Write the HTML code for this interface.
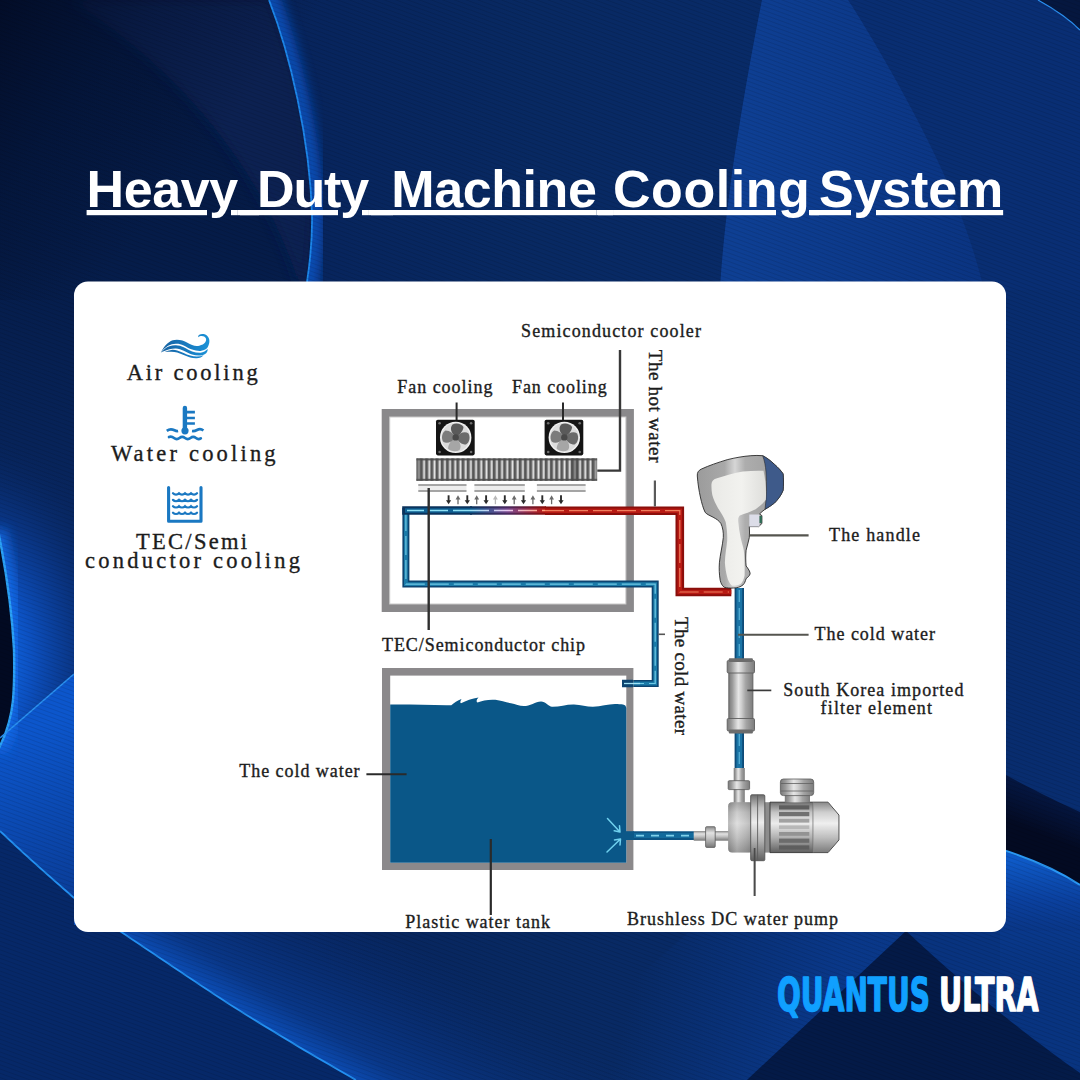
<!DOCTYPE html>
<html lang="en">
<head>
<meta charset="utf-8">
<title>Heavy Duty Machine Cooling System</title>
<style>
html,body{margin:0;padding:0;background:#05194a;}
body{width:1080px;height:1080px;overflow:hidden;position:relative;}
svg{position:absolute;left:0;top:0;display:block;}
.sans{font-family:"Liberation Sans",sans-serif;font-weight:700;}
.serif{font-family:"Liberation Serif",serif;fill:#1c1c1c;}
</style>
</head>
<body>
<svg width="1080" height="1080" viewBox="0 0 1080 1080">
<defs>
  <linearGradient id="bgBase" x1="0" y1="0" x2="1" y2="0">
    <stop offset="0" stop-color="#06215a"/>
    <stop offset="0.270" stop-color="#07245c"/>
    <stop offset="0.500" stop-color="#082962"/>
    <stop offset="1" stop-color="#082d70"/>
  </linearGradient>
  <linearGradient id="bigArcGlow" gradientUnits="userSpaceOnUse" x1="300" y1="0" x2="372" y2="0">
    <stop offset="0" stop-color="#0d50b8" stop-opacity="0.700"/>
    <stop offset="0.250" stop-color="#0a3c94" stop-opacity="0.400"/>
    <stop offset="1" stop-color="#08286a" stop-opacity="0"/>
  </linearGradient>
  <linearGradient id="tlDark" gradientUnits="userSpaceOnUse" x1="0" y1="0" x2="200" y2="160">
    <stop offset="0" stop-color="#020b24" stop-opacity="0.850"/>
    <stop offset="0.500" stop-color="#03102e" stop-opacity="0.400"/>
    <stop offset="1" stop-color="#03102e" stop-opacity="0"/>
  </linearGradient>
  <filter id="soft" x="-20%" y="-20%" width="140%" height="140%"><feGaussianBlur stdDeviation="6"/></filter>
  <linearGradient id="leftBand" gradientUnits="userSpaceOnUse" x1="0" y1="740" x2="60" y2="900">
    <stop offset="0" stop-color="#0c56cc"/>
    <stop offset="1" stop-color="#0a3d98"/>
  </linearGradient>
  <linearGradient id="leaf" gradientUnits="userSpaceOnUse" x1="740" y1="0" x2="1000" y2="0">
    <stop offset="0" stop-color="#0e3f93"/>
    <stop offset="1" stop-color="#0a3380"/>
  </linearGradient>
  <radialGradient id="leftGlow" gradientUnits="userSpaceOnUse" cx="-45" cy="660" r="230" gradientTransform="translate(-45 660) scale(0.800 1) translate(45 -660)">
    <stop offset="0.250" stop-color="#0f66e4"/>
    <stop offset="0.420" stop-color="#0c50c0"/>
    <stop offset="0.650" stop-color="#0a3a90" stop-opacity="0.800"/>
    <stop offset="1" stop-color="#07255e" stop-opacity="0"/>
  </radialGradient>
  <linearGradient id="botGlow" gradientUnits="userSpaceOnUse" x1="226" y1="1002" x2="310" y2="870">
    <stop offset="0" stop-color="#0c50bc" stop-opacity="0.950"/>
    <stop offset="0.200" stop-color="#0a3f9a" stop-opacity="0.700"/>
    <stop offset="1" stop-color="#082c72" stop-opacity="0"/>
  </linearGradient>
  <linearGradient id="rightGlow" gradientUnits="userSpaceOnUse" x1="0" y1="860" x2="0" y2="1000">
    <stop offset="0" stop-color="#0e5ac8"/>
    <stop offset="0.300" stop-color="#0b43a5" stop-opacity="0.850"/>
    <stop offset="1" stop-color="#082f78" stop-opacity="0"/>
  </linearGradient>
  <linearGradient id="bandFade" gradientUnits="userSpaceOnUse" x1="1046" y1="790" x2="1030" y2="830">
    <stop offset="0" stop-color="#041238" stop-opacity="0.800"/>
    <stop offset="1" stop-color="#030a22"/>
  </linearGradient>
  <linearGradient id="mtLeft" gradientUnits="userSpaceOnUse" x1="830" y1="1010" x2="640" y2="960">
    <stop offset="0" stop-color="#0a3a8e" stop-opacity="0.850"/>
    <stop offset="1" stop-color="#0a3a8e" stop-opacity="0"/>
  </linearGradient>
  <linearGradient id="darkLeft" gradientUnits="userSpaceOnUse" x1="0" y1="0" x2="0" y2="520">
    <stop offset="0" stop-color="#04173e"/>
    <stop offset="0.500" stop-color="#051c49"/>
    <stop offset="1" stop-color="#08265f"/>
  </linearGradient>
  <pattern id="tex" width="4" height="4" patternUnits="userSpaceOnUse" patternTransform="rotate(20)">
    <rect width="4" height="1" fill="#000" opacity="0.10"/>
  </pattern>
</defs>

<!-- ================= BACKGROUND ================= -->
<g id="bg">
  <rect width="1080" height="1080" fill="url(#bgBase)"/>
  <!-- dark left upper region (inside big arc) -->
  <path d="M0 0H269C278 22 285 40 290 54C296 72 300 90 303 107C307 125 310 143 311 161C312.500 180 313 198 312 215C311 238 309 260 307 282C300 420 200 570 74 674L0 738Z" fill="url(#darkLeft)"/>
  <path d="M70 0C180 70 262 170 298 282L307 282C311 238 313 198 311 161C307 107 290 54 269 0Z" fill="#072253" filter="url(#soft)" opacity="0.900"/>
  <rect x="0" y="0" width="320" height="300" fill="url(#tlDark)"/>
  
  <!-- glow right of big arc -->
  <clipPath id="rightOfArc"><path d="M269 0C290 54 310 140 312 215C312.500 240 310 262 307 290H500V0Z"/></clipPath>
  <g clip-path="url(#rightOfArc)"><path d="M262 -20C290 54 310 140 312 215C312.500 240 310 262 305 300" fill="none" stroke="#0e5ad0" stroke-width="24" filter="url(#soft)" opacity="0.750"/></g>
  <path d="M269 0C290 54 310 140 312 215C312.500 240 310 262 307 282" fill="none" stroke="#1c86ea" stroke-width="1.800"/>
  <!-- right leaf -->
  <path d="M762 0C750 60 742 110 740 122C730 180 722 250 720 290H1080V0Z" fill="#0a2f78" opacity="0.500"/>
  <path d="M762 0C750 60 742 110 740 122C730 180 722 250 720 290L984 290C965 210 930 140 885 61C870 35 858 15 848 0Z" fill="url(#leaf)"/>
  <path d="M1038 0C1056 10 1072 22 1080 30V0Z" fill="#05173f"/>
  <path d="M1038 0C1056 10 1072 22 1080 30" fill="none" stroke="#2a8ff0" stroke-width="1.200"/>
  <!-- left glow + dark oval -->
  <path d="M0 380H140V620L0 738Z" fill="url(#leftGlow)"/>
  <path d="M0 738L74 674V897L0 831Z" fill="url(#leftBand)"/>
  <path d="M-2 530C6 570 12 610 14 650C14.500 670 14.200 685 13 700C11 720 6 735 -2 750" fill="none" stroke="#1570f0" stroke-width="16" filter="url(#soft)" opacity="0.800"/>
  <path d="M0 539C6 570 12 610 14 650C14.500 670 14.200 685 13 700C11 720 6 735 0 747Z" fill="#020a22"/>
  <path d="M-2 530C6 570 12 610 14 650C14.500 670 14.200 685 13 700C11 720 6 735 -2 750" fill="none" stroke="#2aa0f6" stroke-width="2.400"/>
  <path d="M0 738L74 674" fill="none" stroke="#2a90f0" stroke-width="1.600"/>
  <!-- bottom-left sweep -->
  <path d="M0 831C25 855 50 877 73 897C90 910 106 921 122 932.500C160 958 195 982 226 1002C270 1030 310 1054 356 1080H0Z" fill="#062868"/>
  <path d="M0 831C25 855 50 877 73 897C90 910 106 921 122 932.500C160 958 195 982 226 1002C270 1030 310 1054 356 1080H640C560 1010 470 960 330 925L74 925V897Z" fill="url(#botGlow)"/>
  <path d="M0 831C25 855 50 877 73 897C90 910 106 921 122 932.500C160 958 195 982 226 1002C270 1030 310 1054 356 1080" fill="none" stroke="#2390f2" stroke-width="1.800"/>
  <!-- right dark band -->
  <path d="M1000 772C1030 788 1060 803 1080 812V885C1062 873 1035 860 1000 849Z" fill="url(#bandFade)"/>
  <path d="M1000 849C1035 860 1062 873 1080 885V1020H1000Z" fill="url(#rightGlow)"/>
  <path d="M1000 849C1035 860 1062 873 1080 885" fill="none" stroke="#2a98f4" stroke-width="2"/>
  <!-- bottom right facets -->
  <path d="M906 931L747 1080H520L690 931Z" fill="url(#mtLeft)"/>
  <path d="M906 931C980 1000 1040 1045 1080 1073V931Z" fill="#0a3a8e" opacity="0.550"/>
  <path d="M906 931L747 1080H1080V1073C1040 1045 980 1000 906 931Z" fill="#04163f" opacity="0.800"/>
  <rect width="1080" height="1080" fill="url(#tex)"/>
</g>

<!-- ================= TITLE ================= -->
<text class="sans" id="title" x="86.600" y="207" font-size="52" fill="#ffffff" xml:space="preserve" style="text-decoration:underline;text-decoration-thickness:4.800px;text-underline-offset:3.600px;text-decoration-skip-ink:auto;"><tspan letter-spacing="-0.400">Heavy</tspan><tspan word-spacing="4.720"> </tspan><tspan letter-spacing="-1.120">Duty</tspan><tspan word-spacing="8.800"> </tspan><tspan letter-spacing="-0.427">Machine</tspan><tspan word-spacing="2.187"> </tspan><tspan letter-spacing="0.533">Cooling</tspan><tspan word-spacing="-5.813"> </tspan><tspan letter-spacing="-0.128">System</tspan></text>

<g fill="#ffffff"><rect x="240" y="210" width="19" height="5.200"/><rect x="371" y="210" width="22" height="5.200"/><rect x="598" y="210" width="15" height="5.200"/><rect x="809" y="210" width="10" height="5.200"/></g>
<!-- ================= CARD ================= -->
<rect x="74" y="281.400" width="932" height="650.600" rx="14" ry="14" fill="#ffffff"/>

<defs>
  <linearGradient id="pipeHot" gradientUnits="userSpaceOnUse" x1="470" y1="0" x2="545" y2="0">
    <stop offset="0" stop-color="#0b335c"/>
    <stop offset="0.5" stop-color="#4a2a60"/>
    <stop offset="1" stop-color="#8a0e0b"/>
  </linearGradient>
  <linearGradient id="pipeHotIn" gradientUnits="userSpaceOnUse" x1="470" y1="0" x2="545" y2="0">
    <stop offset="0" stop-color="#0e5f92"/>
    <stop offset="0.5" stop-color="#7a4a90"/>
    <stop offset="1" stop-color="#b81a13"/>
  </linearGradient>
  <linearGradient id="pipeHotDash" gradientUnits="userSpaceOnUse" x1="470" y1="0" x2="545" y2="0">
    <stop offset="0" stop-color="#9fe2f5"/>
    <stop offset="0.5" stop-color="#e8c8f0"/>
    <stop offset="1" stop-color="#ff9e78"/>
  </linearGradient>
  <linearGradient id="metalH" x1="0" y1="0" x2="1" y2="0">
    <stop offset="0" stop-color="#7a7a7a"/>
    <stop offset="0.150" stop-color="#9a9a9a"/>
    <stop offset="0.400" stop-color="#e6e6e6"/>
    <stop offset="0.520" stop-color="#d0d0d0"/>
    <stop offset="0.700" stop-color="#a4a4a4"/>
    <stop offset="1" stop-color="#7c7c7c"/>
  </linearGradient>
  <linearGradient id="metalV" x1="0" y1="0" x2="0" y2="1">
    <stop offset="0" stop-color="#8a8a8a"/>
    <stop offset="0.3" stop-color="#e2e2e2"/>
    <stop offset="0.55" stop-color="#c4c4c4"/>
    <stop offset="1" stop-color="#777777"/>
  </linearGradient>
  <radialGradient id="fanG" cx="0.5" cy="0.5" r="0.5">
    <stop offset="0" stop-color="#5a5a5a"/>
    <stop offset="0.35" stop-color="#9a9a9a"/>
    <stop offset="0.8" stop-color="#e6e6e6"/>
    <stop offset="1" stop-color="#bdbdbd"/>
  </radialGradient>
  <pattern id="fins" x="415" y="457" width="5.2" height="24" patternUnits="userSpaceOnUse">
    <rect width="5.200" height="24" fill="#9c9c9c"/>
    <rect x="0" width="2.300" height="24" fill="#565656"/>
    <rect x="3.300" width="1.300" height="24" fill="#e2e2e2"/>
  </pattern>
</defs>

<!-- ===== upper box ===== -->
<g id="coolerBox">
  <rect x="385.7" y="413" width="244.2" height="195" fill="none" stroke="#8a898b" stroke-width="8"/>
  <rect x="389.7" y="417" width="236.2" height="187" fill="none" stroke="#c9c9c9" stroke-width="1"/>
</g>

<!-- fans -->
<g id="fans">
  <defs>
    <filter id="fblur" x="-20%" y="-20%" width="140%" height="140%"><feGaussianBlur stdDeviation="0.700"/></filter>
    </defs>
  <g>
      <rect x="436" y="419.800" width="38.700" height="35.600" rx="1.800" fill="#141414"/>
      <circle cx="455.700" cy="437.400" r="15.700" fill="#f1f1f1"/>
      <circle cx="455.700" cy="437.400" r="14.300" fill="#dcdcdc"/>
      <g filter="url(#fblur)">
        <path d="M455.700 437C451 433 449.500 428 452.500 424.500C456 422.500 461.500 423.500 463.500 427C463 431.500 459.500 435 455.700 437Z" fill="#5a5a5a"/>
        <path d="M456 437.400C460 432.500 465 431 468.500 433.500C470.500 437 469.500 442.500 466 444.500C461.500 444.500 458 441.500 456 437.400Z" fill="#6a6a6a"/>
        <path d="M455.700 437.800C460 441.500 462 446.500 459.500 450C456 452 450.500 451.500 448 448.500C448.500 443.500 451.500 440 455.700 437.800Z" fill="#a6a6a6"/>
        <path d="M455.400 437.400C451.500 442.500 446.500 444 443 441.500C441 438 442 432.500 445.500 430.500C450 430.500 453.500 433.500 455.400 437.400Z" fill="#7c7c7c"/>
        <circle cx="455.700" cy="437.400" r="3.200" fill="#4a4a4a"/>
      </g>
      <g fill="#6e6e6e"><circle cx="439.600" cy="423.200" r="1.300"/><circle cx="471.100" cy="423.200" r="1.300"/><circle cx="439.600" cy="452" r="1.300"/><circle cx="471.100" cy="452" r="1.300"/></g>
  </g>
  <g transform="translate(108.600 0)">
      <rect x="436" y="419.800" width="38.700" height="35.600" rx="1.800" fill="#141414"/>
      <circle cx="455.700" cy="437.400" r="15.700" fill="#f1f1f1"/>
      <circle cx="455.700" cy="437.400" r="14.300" fill="#dcdcdc"/>
      <g filter="url(#fblur)">
        <path d="M455.700 437C451 433 449.500 428 452.500 424.500C456 422.500 461.500 423.500 463.500 427C463 431.500 459.500 435 455.700 437Z" fill="#5a5a5a"/>
        <path d="M456 437.400C460 432.500 465 431 468.500 433.500C470.500 437 469.500 442.500 466 444.500C461.500 444.500 458 441.500 456 437.400Z" fill="#6a6a6a"/>
        <path d="M455.700 437.800C460 441.500 462 446.500 459.500 450C456 452 450.500 451.500 448 448.500C448.500 443.500 451.500 440 455.700 437.800Z" fill="#a6a6a6"/>
        <path d="M455.400 437.400C451.500 442.500 446.500 444 443 441.500C441 438 442 432.500 445.500 430.500C450 430.500 453.500 433.500 455.400 437.400Z" fill="#7c7c7c"/>
        <circle cx="455.700" cy="437.400" r="3.200" fill="#4a4a4a"/>
      </g>
      <g fill="#6e6e6e"><circle cx="439.600" cy="423.200" r="1.300"/><circle cx="471.100" cy="423.200" r="1.300"/><circle cx="439.600" cy="452" r="1.300"/><circle cx="471.100" cy="452" r="1.300"/></g>
  </g>
  <rect x="455.600" y="402.500" width="2" height="17.500" fill="#2a2a2a"/>
  <rect x="562" y="402.500" width="2" height="17.500" fill="#2a2a2a"/>
</g>

<!-- heatsink -->
<g id="heatsink">
  <rect x="416.500" y="458.400" width="180.600" height="22.400" fill="url(#fins)"/>
  <rect x="416.500" y="458.400" width="180.600" height="2" fill="#4a4a4a" opacity="0.850"/>
  <rect x="416.500" y="478.800" width="180.600" height="2" fill="#4a4a4a" opacity="0.850"/>
  <rect x="416.500" y="458.400" width="4" height="22.400" fill="#5a5a5a" opacity="0.550"/>
  <rect x="572" y="458.400" width="6" height="22.400" fill="#4a4a4a" opacity="0.550"/>
  <rect x="592.500" y="458.400" width="4.600" height="22.400" fill="#5a5a5a" opacity="0.450"/>
</g>
<!-- plates -->
<g id="plates">
  <g fill="#ededed"><rect x="418.300" y="484.400" width="48.200" height="7.400"/><rect x="474.400" y="484.400" width="50.400" height="7.400"/><rect x="536.900" y="484.400" width="48.700" height="7.400"/></g>
  <g fill="none" stroke="#8c8c8c" stroke-width="1.500"><path d="M418.300 485.100H466.500M418.300 491.100H466.500M474.400 485.100H524.800M474.400 491.100H524.800M536.900 485.100H585.600M536.900 491.100H585.600"/></g>
</g>
<g id="arrows">
<path d="M448.6 495.300V501.500" stroke="#2b2b2b" stroke-width="1.9" fill="none"/><path d="M446.0 500.200H451.2L448.6 504.300Z" fill="#2b2b2b"/>
<path d="M458.0 504.200V498.500" stroke="#6a6a6a" stroke-width="1.3" fill="none"/><path d="M455.6 499.400H460.4L458.0 495.300Z" fill="#6a6a6a"/>
<path d="M467.3 495.300V501.500" stroke="#2b2b2b" stroke-width="1.9" fill="none"/><path d="M464.7 500.200H469.9L467.3 504.300Z" fill="#2b2b2b"/>
<path d="M476.7 504.200V498.500" stroke="#6a6a6a" stroke-width="1.3" fill="none"/><path d="M474.3 499.400H479.1L476.7 495.300Z" fill="#6a6a6a"/>
<path d="M486.1 495.300V501.500" stroke="#2b2b2b" stroke-width="1.9" fill="none"/><path d="M483.5 500.200H488.7L486.1 504.300Z" fill="#2b2b2b"/>
<path d="M495.4 504.200V498.500" stroke="#b8b8b8" stroke-width="1.3" fill="none"/><path d="M493.0 499.400H497.8L495.4 495.300Z" fill="#b8b8b8"/>
<path d="M504.8 495.300V501.500" stroke="#2b2b2b" stroke-width="1.9" fill="none"/><path d="M502.2 500.200H507.4L504.8 504.300Z" fill="#2b2b2b"/>
<path d="M514.2 504.200V498.500" stroke="#6a6a6a" stroke-width="1.3" fill="none"/><path d="M511.8 499.400H516.6L514.2 495.300Z" fill="#6a6a6a"/>
<path d="M523.5 495.300V501.500" stroke="#2b2b2b" stroke-width="1.9" fill="none"/><path d="M520.9 500.200H526.1L523.5 504.300Z" fill="#2b2b2b"/>
<path d="M532.9 504.200V498.500" stroke="#6a6a6a" stroke-width="1.3" fill="none"/><path d="M530.5 499.400H535.3L532.9 495.300Z" fill="#6a6a6a"/>
<path d="M542.3 495.300V501.500" stroke="#2b2b2b" stroke-width="1.9" fill="none"/><path d="M539.7 500.200H544.9L542.3 504.300Z" fill="#2b2b2b"/>
<path d="M551.6 504.200V498.500" stroke="#6a6a6a" stroke-width="1.3" fill="none"/><path d="M549.2 499.400H554.0L551.6 495.300Z" fill="#6a6a6a"/>
<path d="M561.0 495.300V501.500" stroke="#2b2b2b" stroke-width="1.9" fill="none"/><path d="M558.4 500.200H563.6L561.0 504.300Z" fill="#2b2b2b"/>
</g>



<!-- ===== pipes ===== -->
<g id="pipes" fill="none" stroke-linejoin="miter">
  <!-- cold loop lower part (thinner) -->
  <path d="M405.900 508V584.100H655.200V683.500H624.500" stroke="#0d4470" stroke-width="7"/>
  <path d="M405.900 508V584.100H655.200V683.500H624.500" stroke="#1a7aa8" stroke-width="3.800"/>
  <path d="M405.900 512V584.100H655.200V683.500H626" stroke="#7fd6ee" stroke-width="1.200" stroke-dasharray="19 5" opacity="0.850"/>
  <!-- cold top horizontal -->
  <path d="M472 510.500H402.200" stroke="#0b335c" stroke-width="8.600"/>
  <path d="M472 510.500H405" stroke="#0e5f92" stroke-width="4.400"/>
  <path d="M472 510.500H407" stroke="#8fe0f4" stroke-width="1.500" stroke-dasharray="19 5"/>
  <!-- transition -->
  <path d="M470 510.500H546" stroke="url(#pipeHot)" stroke-width="8.600"/>
  <path d="M470 510.500H546" stroke="url(#pipeHotIn)" stroke-width="4.400"/>
  <path d="M470 510.500H546" stroke="url(#pipeHotDash)" stroke-width="1.500" stroke-dasharray="19 5"/>
  <!-- hot -->
  <path d="M545 510.700H679.800V592H731.300" stroke="#8a0e0b" stroke-width="8.600"/>
  <path d="M545 510.700H679.800V592H731.300" stroke="#b81a13" stroke-width="4.600"/>
  <path d="M545 510.700H679.800V592H729" stroke="#f58a66" stroke-width="1.200" stroke-dasharray="19 5" opacity="0.900"/>
  <!-- handle -> filter -> pump -->
  <path d="M739.300 588V770" stroke="#0e4b78" stroke-width="9.400"/>
  <path d="M739.300 588V770" stroke="#1a74a6" stroke-width="5.800"/>
  <path d="M739.300 590V770" stroke="#5fb8dc" stroke-width="1.400" stroke-dasharray="12 6" opacity="0.800"/>
  <!-- tank -> pump -->
  <path d="M628 835.600H694" stroke="#0d5484" stroke-width="8.800"/>
  <path d="M628 835.600H694" stroke="#126a9c" stroke-width="5"/>
  <path d="M636 835.600H692" stroke="#7fd0ea" stroke-width="1.600" stroke-dasharray="8 7"/>
</g>

<!-- leader lines -->
<g id="leaders" fill="none" stroke="#2e2e2e" stroke-width="2">
  <path d="M620 350V470.600H597.300" stroke="#383838" stroke-width="2.400"/>
  <path d="M428.700 488V630" stroke-width="2.400"/>
  <path d="M654.900 480.500V506.500" stroke="#5a5a5a" stroke-width="2.200"/>
  <path d="M658.500 634.300H665" stroke="#555" stroke-width="1.600"/>
</g>

<!-- ===== tank ===== -->
<g id="tank">
  <rect x="382" y="668" width="251.400" height="202" fill="#8b898b"/>
  <rect x="390.200" y="675.600" width="236.100" height="187.200" fill="#ffffff"/>
  <path d="M390.200 704.600C410 704.300 432 705.400 451.300 705.200C454 703 457.500 700.300 461.500 699C460.300 701 459.800 702.500 461 703.300C466 700.800 472 698.300 478.500 697.500C476.500 699.500 476 701.500 477.500 702.500C482 700.500 489 699.300 495.400 699.800C501 700.400 506 702.500 511 703.200C515.500 703.800 519.500 706 523.700 706.100C530 705.800 535.500 701.800 541 701.400C545.500 701.500 548.500 706.300 552 706.800C559 707 566.500 704.300 574 704.500C581 704.800 587 706.900 593 706.800C601 706.500 608 704 615 704C618 704 621 704.200 623 704.500C625 704.800 626 706 626.300 708V862.800H390.200Z" fill="#0a5788"/>
  <rect x="389.600" y="720" width="236" height="141.900" fill="none" stroke="#0d5f95" stroke-width="0" />
  <!-- inlet pipe stub inside wall -->
  <path d="M622 683.500H633" stroke="#0c436f" stroke-width="7.500" fill="none"/>
  <path d="M624 683.500H640" stroke="#9fe2f5" stroke-width="1.300" fill="none"/>
  <!-- outlet -->
  <path d="M622 835.600H634" stroke="#0b5888" stroke-width="8.800" fill="none"/>
  <g fill="none" stroke="#6fd0ee" stroke-width="1.500" stroke-linecap="round" stroke-linejoin="round">
    <path d="M607.500 818.500L620 832M620 832L614.200 830.800M620 832L619.500 825.800"/>
    <path d="M607 852L620.500 839M620.500 839L614.500 840M620.500 839L620 845"/>
  </g>
</g>
<g fill="none" stroke="#2a2a2a">
  <path d="M366.400 774.200H406.600" stroke-width="2"/>
  <path d="M490.800 839V915" stroke-width="2.200"/>
  <path d="M754.600 849V896" stroke-width="1.600" stroke="#555"/>
</g>

<!-- ===== handle ===== -->
<defs>
  <linearGradient id="hdlG" gradientUnits="userSpaceOnUse" x1="697" y1="0" x2="770" y2="0">
    <stop offset="0" stop-color="#9b9b9b"/>
    <stop offset="0.38" stop-color="#a9a9a9"/>
    <stop offset="0.52" stop-color="#d6d6d6"/>
    <stop offset="0.66" stop-color="#adadad"/>
    <stop offset="1" stop-color="#a2a2a2"/>
  </linearGradient>
  <linearGradient id="hdlW" gradientUnits="userSpaceOnUse" x1="711" y1="0" x2="766" y2="0">
    <stop offset="0" stop-color="#e9e9e6"/>
    <stop offset="0.55" stop-color="#f2f2ef"/>
    <stop offset="1" stop-color="#dededb"/>
  </linearGradient>
</defs>
<g id="handle">
  <path d="M697.300 476C697 472.500 698.500 470.500 701.300 469.100C709 465.500 718 462.500 727.200 459.700C735 457.800 743 456.300 750.900 455.700C755 455.400 759 455.300 762.700 455.700C767 458 771 461 774.500 464.400C778 467.500 781 470.500 783.100 473.900C783.600 479 783.600 485 783.100 490.400C781 495.500 778 499.500 774.500 503C771.500 505.500 768 507.500 765 509.300C763 510.800 761 512.400 759.500 514L761.900 515.600V523.500L758.700 526.600H749.300C749.600 530 749.600 534 749.300 537.600C748.500 542 747 546 746.100 550.200C745.600 555 745.600 561 746.100 566C748 568.500 750.300 571.500 750.100 573.900C749.500 576 747.500 577.500 746.100 578.600C745.500 581 744.500 583.500 743 584.900C740.500 587 737 588 733.500 588C730 588.300 727 588 724.100 587.200C722 585.500 720.800 583 720.200 580.200C719.200 574.500 719 568.500 719.400 562.800C720.200 554 722.500 546 723.300 537.600C723.600 532.500 722.800 527.500 720.900 523.500C719 520.500 716 518.800 713.100 517.200C710.500 515.800 707 514.500 705.200 512.400C703 508 701.800 503 700.600 498C699 491 697.800 483 697.300 476Z" fill="url(#hdlG)" stroke="#2a2a2a" stroke-width="0.900"/>
  <!-- blue window -->
  <path d="M762.700 455.700C767 458 771 461 774.500 464.400C778 467.500 781 470.500 783.100 473.900C783.600 479 783.600 485 783.100 490.400C781 495.500 778 499.500 774.500 503C771.500 505.500 768 507.500 765 509.300C766.500 498 767 485 766 472C765.500 466 764.500 460.500 762.700 455.700Z" fill="#3e5a8a" stroke="#2a2a2a" stroke-width="0.600"/>
  <!-- inner white -->
  <path d="M711.500 484.100C711.800 481 713.500 479.500 716.200 478.600C725 475.500 734 473 743 471.500C750 470.700 757 470.500 763.500 470.700C765.500 480 766.500 490 765.800 499.800C763 503.500 759.500 506.500 755.600 509.300C750.500 512 745 513.500 739.800 515.600C738.300 517 738 519.500 738.300 521.900C738.700 527 739.500 532.500 740.600 537.600C741.500 542 743 546 743.800 550.200C744.600 558 744.800 567 744.600 575.400C744 579 742.500 582 740.600 584.100C738 585.500 735 586 732 585.700C729.500 583.500 728 580.500 727.200 577C726 572.500 725.200 567.500 724.900 562.800C725 555 726.500 548 727.200 540.800C727.500 534 726.800 527.500 725.700 521.900C723.500 516.500 720.500 512 717.800 507.700C715.500 503.500 713.500 499.500 712.300 495.100C711.600 491.500 711.300 487.500 711.500 484.100Z" fill="url(#hdlW)"/>
  <!-- button -->
  <path d="M749.300 514.500H759.500V526.600H749.300Z" fill="#dcdde8"/>
  <rect x="759.500" y="516" width="2.400" height="7" fill="#2e6b55"/>
</g>

<g fill="none" stroke="#55554f" stroke-width="2.100">
  <path d="M749.600 535.400H808.600"/>
  <path d="M738 634.800H808.600"/>
</g>
<!-- ===== filter ===== -->
<g id="filter">
  <rect x="728.800" y="670" width="24.100" height="51" fill="url(#metalH)"/>
  <rect x="727.200" y="660.500" width="27.300" height="12.500" rx="1.200" fill="url(#metalH)" stroke="#5f5f5f" stroke-width="0.900"/>
  <rect x="728.800" y="658.200" width="24.100" height="3.800" rx="1" fill="#6c6c6c"/>
  <rect x="727.200" y="718.500" width="27.300" height="12.500" rx="1.200" fill="url(#metalH)" stroke="#5f5f5f" stroke-width="0.900"/>
  <rect x="728.800" y="729.600" width="24.100" height="3.800" rx="1" fill="#6c6c6c"/>
  <path d="M728.800 673V718.500M752.900 673V718.500" stroke="#5f5f5f" stroke-width="0.900" fill="none"/>
  <path d="M747.300 690.400H771.300" stroke="#3a3a3a" stroke-width="1.700" fill="none"/>
</g>

<!-- ===== pump ===== -->
<defs>
  <linearGradient id="motorV" x1="0" y1="0" x2="0" y2="1">
    <stop offset="0" stop-color="#6e6e6e"/>
    <stop offset="0.200" stop-color="#c4c4c4"/>
    <stop offset="0.420" stop-color="#ececec"/>
    <stop offset="0.700" stop-color="#b0b0b0"/>
    <stop offset="1" stop-color="#606060"/>
  </linearGradient>
  <linearGradient id="voluteH" x1="0" y1="0" x2="1" y2="0">
    <stop offset="0" stop-color="#8e8e8e"/>
    <stop offset="0.35" stop-color="#d4d4d4"/>
    <stop offset="0.7" stop-color="#b0b0b0"/>
    <stop offset="1" stop-color="#8a8a8a"/>
  </linearGradient>
</defs>
<g id="pump">
  <!-- top inlet -->
  <rect x="733.700" y="768" width="11.100" height="13" fill="url(#metalH)"/>
  <rect x="733.700" y="789" width="11.100" height="14" fill="url(#metalH)"/>
  <rect x="728.200" y="780.700" width="21.400" height="8.900" rx="1" fill="url(#metalH)" stroke="#5a5a5a" stroke-width="0.800"/>
  <!-- left inlet -->
  <rect x="693.700" y="831" width="12.300" height="9.700" fill="url(#metalV)"/>
  <rect x="715" y="831" width="14" height="9.700" fill="url(#metalV)"/>
  <rect x="705.600" y="826.700" width="9.600" height="20.700" rx="1" fill="url(#metalV)" stroke="#5a5a5a" stroke-width="0.800"/>
  <!-- volute -->
  <rect x="728.200" y="802.200" width="25" height="50.400" rx="4" fill="url(#voluteH)"/>
  <rect x="728.200" y="802.200" width="25" height="50.400" rx="4" fill="url(#motorV)" opacity="0.450"/>
  <!-- motor neck -->
  <rect x="763" y="802.200" width="8" height="50.400" fill="#8c8c8c"/>
  <!-- motor -->
  <path d="M770 802.200H828L838.900 815V840L828 852.600H770Z" fill="url(#motorV)" stroke="#3e3e3e" stroke-width="1"/>
  <path d="M813 802.200V852.600" stroke="#6a6a6a" stroke-width="0.800" fill="none"/>
  <path d="M813 802.200H828L838.900 815V840L828 852.600H813Z" fill="#ffffff" opacity="0.180"/>
  <!-- fins -->
  <g fill="#5e5e5e">
    <rect x="779" y="805.300" width="30.300" height="4.200"/>
    <rect x="779" y="812" width="30.300" height="4.200" fill="#707070"/>
    <rect x="779" y="818.800" width="30.300" height="3.800" fill="#a2a2a2"/>
    <rect x="779" y="825.400" width="30.300" height="3.600" fill="#b8b8b8"/>
    <rect x="779" y="832" width="30.300" height="3.800" fill="#939393"/>
    <rect x="779" y="838.600" width="30.300" height="4.200" fill="#6c6c6c"/>
    <rect x="779" y="845.400" width="30.300" height="4.200"/>
  </g>
  <!-- flange -->
  <rect x="750.700" y="794.800" width="14.100" height="65.900" rx="1.200" fill="url(#motorV)" stroke="#555" stroke-width="0.900"/>
  <path d="M757.600 794.800V860.700" stroke="#5e5e5e" stroke-width="0.900" fill="none"/>
  <!-- terminal box -->
  <rect x="784.800" y="794" width="25.200" height="8.500" fill="url(#metalH)"/>
  <rect x="780.400" y="779" width="33.300" height="16.600" rx="3" fill="url(#metalH)" stroke="#5a5a5a" stroke-width="0.800"/>
  <path d="M781 783.500H813M781 791H813" stroke="#5f5f5f" stroke-width="0.800" fill="none"/>
  <path d="M754.600 848V896" stroke="#4a4a4a" stroke-width="1.700" fill="none"/>
</g>

<!-- ===== legend icons ===== -->
<defs>
  <linearGradient id="waveG" gradientUnits="userSpaceOnUse" x1="160" y1="0" x2="210" y2="0">
    <stop offset="0" stop-color="#14609f"/>
    <stop offset="0.5" stop-color="#1878bd"/>
    <stop offset="1" stop-color="#1b93d8"/>
  </linearGradient>
</defs>
<g id="icoAir" fill="url(#waveG)">
  <path d="M160.700 352.900C163.500 347 167.500 342 172.700 340.200C176 339.300 179.500 339.600 182.400 340.600C186 341.800 189 343.800 192.100 345.100C194.500 346 197 346.200 199.300 345.700C202 345 204 344 205.100 342.500C206.300 341 206.400 339.300 205.700 338C205 336.700 203.500 336 201.800 336C200.300 336 199 336.400 198.300 337.300C198 336.200 198.400 335.300 199.300 334.700C200.600 333.900 202.300 333.700 203.800 334.100C206 334.700 207.500 335.800 208.300 337.300C209.300 338.900 209.600 340.700 209.300 342.500C209 344.700 208.200 346.700 207 348.300C205.300 350 203 350.700 200.500 350.900C197.500 351 194.800 350.500 192.100 349.600C189 348.500 186.500 346.700 183.700 345.400C181.200 344.300 178.500 343.700 175.900 343.800C173 344 170.500 344.500 168.100 345.700C165.200 347.300 162.800 350 160.700 352.900Z"/>
  <path d="M161.300 352.600C163.500 349.600 166 347.400 169.400 346.300C171.500 345.400 173.700 345.100 175.900 345.200C178.700 345.300 181.200 346.100 183.700 347.200C186.500 348.500 189.200 350.300 192.100 351.400C194.800 352.300 197.700 352.800 200.500 352.700C203.300 352.400 205.800 351.100 207.700 349.100C207.700 350.800 207.300 352 206.400 352.900C204.800 354.500 202.700 355.200 200.500 355.400C197.600 355.600 194.800 355.200 192.100 354.400C189.100 353.500 186.500 352 183.700 350.700C181.200 349.600 178.600 348.600 175.900 348.400C173.700 348.300 171.500 348.700 169.400 349.300C166.300 350.100 163.700 351.200 161.300 352.600Z"/>
  <path d="M164.500 352C166.700 350.800 169 350.100 171.400 349.900C173.400 349.700 175.300 349.900 177.200 350.400C179.500 351 181.600 352 183.700 352.900C185.800 353.800 188 354.900 190.200 355.600C192.300 356.200 194.500 356.500 196.700 356.600C199.200 356.500 201.500 356.100 203.600 355.300C202 357.200 199.500 358.100 196.700 358.300C194.400 358.400 192.300 358.100 190.200 357.500C187.900 356.900 185.800 355.900 183.700 355C181.600 354.100 179.500 353.100 177.200 352.500C175.300 352 173.400 351.700 171.400 351.700C169 351.700 166.700 351.800 164.500 352Z"/>
</g>
<g id="icoWater" fill="none" stroke="#1a78c2">
  <path d="M184.900 408V428" stroke-width="4.400" stroke-linecap="round"/>
  <circle cx="185" cy="430.800" r="3.600" fill="#1a78c2" stroke="none"/>
  <path d="M186 412.200H194.900M186 418H194.900M186 423.500H194.900" stroke-width="2.700"/>
  <path d="M166.800 430.800C169.500 428.800 172 429 174.500 430.300C176 431.100 177 431.200 178.100 431" stroke-width="2.700"/>
  <path d="M192 431C194 431.200 195.500 430.800 197 430C199.500 428.700 201.500 429 203.400 430.500" stroke-width="2.700"/>
  <path d="M169 437C171 436.200 172.500 436.800 174 438C175.700 439.300 177.800 439.300 179.500 438C181.200 436.700 183.200 436.700 185 438C186.700 439.300 188.800 439.300 190.500 438C192.200 436.700 194.200 436.700 196 438C197.500 439.200 199.200 439.300 200.800 438.300" stroke-width="2.700" stroke-linecap="round"/>
</g>
<g id="icoTec" fill="none" stroke="#1a78c2">
  <path d="M168.600 487.500V521.200H201V487.500" stroke-width="3.100" stroke-linecap="round" stroke-linejoin="round"/>
  <g stroke-width="2.300" stroke-linecap="round">
    <path d="M173 493.300C174.600 494.900 177.400 494.900 179 493.300C180.600 494.900 183.400 494.900 185 493.300C186.600 494.900 189.400 494.900 191 493.300C192.600 494.900 195.400 494.900 197 493.300"/>
    <path d="M173 499.900C174.600 501.500 177.400 501.500 179 499.900C180.600 501.500 183.400 501.500 185 499.900C186.600 501.500 189.400 501.500 191 499.900C192.600 501.500 195.400 501.500 197 499.900"/>
    <path d="M173 506.200C174.600 507.800 177.400 507.800 179 506.200C180.600 507.800 183.400 507.800 185 506.200C186.600 507.800 189.400 507.800 191 506.200C192.600 507.800 195.400 507.800 197 506.200"/>
    <path d="M173 512.700C174.600 514.300 177.400 514.300 179 512.700C180.600 514.300 183.400 514.300 185 512.700C186.600 514.300 189.400 514.300 191 512.700C192.600 514.300 195.400 514.300 197 512.700"/>
  </g>
</g>

<!-- ===== labels ===== -->
<g id="labels" class="serif" stroke="#1c1c1c" stroke-width="0.350">
  <g font-size="22.500">
    <text x="126.700" y="380.400" textLength="131" lengthAdjust="spacing">Air cooling</text>
    <text x="111" y="460.700" textLength="164.600" lengthAdjust="spacing">Water cooling</text>
    <text x="136" y="549" textLength="111" lengthAdjust="spacing">TEC/Semi</text>
    <text x="85" y="567.800" textLength="215" lengthAdjust="spacing">conductor cooling</text>
  </g>
  <g font-size="18">
    <text x="521" y="336.800" textLength="180" lengthAdjust="spacing">Semiconductor cooler</text>
    <text x="397.300" y="392.500" textLength="95.100" lengthAdjust="spacing">Fan cooling</text>
    <text x="512" y="393.200" textLength="94.700" lengthAdjust="spacing">Fan cooling</text>
    <text x="382" y="651" textLength="203" lengthAdjust="spacing">TEC/Semiconductor chip</text>
    <text x="829" y="541" textLength="91" lengthAdjust="spacing">The handle</text>
    <text x="814.600" y="639.600" textLength="120.400" lengthAdjust="spacing">The cold water</text>
    <text x="783.300" y="695.500" textLength="180.100" lengthAdjust="spacing">South Korea imported</text>
    <text x="820.600" y="714.300" textLength="111.400" lengthAdjust="spacing">filter element</text>
    <text x="239.300" y="777.300" textLength="120.300" lengthAdjust="spacing">The cold water</text>
    <text x="405.200" y="928.300" textLength="144.800" lengthAdjust="spacing">Plastic water tank</text>
    <text x="627" y="924.900" textLength="211" lengthAdjust="spacing">Brushless DC water pump</text>
    <text transform="translate(649.400 349.700) rotate(90)" font-size="19" textLength="112.800" lengthAdjust="spacing">The hot water</text>
    <text transform="translate(674.800 617) rotate(90)" font-size="19" textLength="118" lengthAdjust="spacing">The cold water</text>
  </g>
</g>


<!-- ================= LOGO ================= -->
<g font-family="'DejaVu Sans Condensed','DejaVu Sans','Liberation Sans',sans-serif" font-weight="700" font-size="46.600" stroke-linejoin="round">
<text x="777" y="1010.500" fill="#10a0ff" stroke="#10a0ff" stroke-width="1.400" textLength="153" lengthAdjust="spacingAndGlyphs">QUANTUS</text>
<text x="939" y="1010.500" fill="#ffffff" stroke="#ffffff" stroke-width="1.400" textLength="99.500" lengthAdjust="spacingAndGlyphs">ULTRA</text>
</g>
</svg>
</body>
</html>
